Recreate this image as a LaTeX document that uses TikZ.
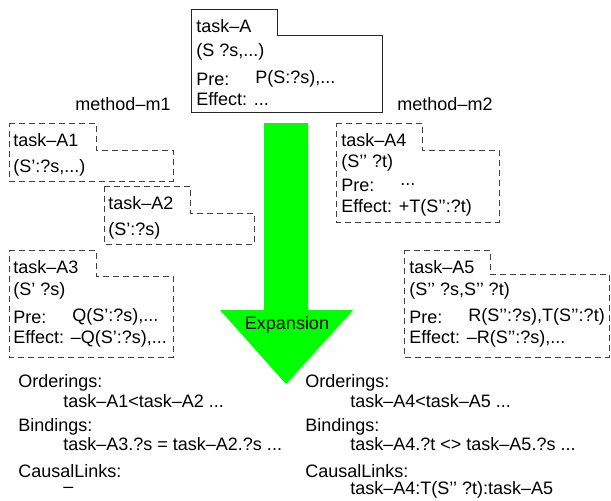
\documentclass[tikz,border=0pt]{standalone}
\usepackage{fontspec}
\setmainfont{Liberation Sans}
\begin{document}
\begin{tikzpicture}[x=0.5pt,y=-0.5pt,
  txt/.style={anchor=west,inner sep=0pt,font=\fontsize{9}{11}\selectfont},
  taskbox/.style={draw=black!85,line width=0.5pt},
  subbox/.style={draw=black!75,line width=0.5pt,dash pattern=on 3pt off 2pt}]
\useasboundingbox (0,0) rectangle (611,500);

% parent task
\draw[taskbox] (191,9) -- (277,9) -- (277,35) -- (382,35) -- (382,112) -- (191,112) -- cycle;
\node[txt] (A-name) at (196,26) {task–A};
\node[txt] (A-args) at (196,52) {(S ?s,...)};
\node[txt] (A-pre) at (196,79) {Pre:};
\node[txt] (A-preval) at (255,79) {P(S:?s),...};
\node[txt] (A-eff) at (196,99) {Effect: ...};

% expansion arrow
\fill[green] (264,123) -- (308,123) -- (308,310) -- (353,310) -- (286,384)
  -- (220,310) -- (264,310) -- cycle;
\node[anchor=center,inner sep=0pt,font=\fontsize{9}{11}\selectfont] (expand) at (287,325) {Expansion};

% method m1
\node[anchor=center,inner sep=0pt,font=\fontsize{9}{11}\selectfont] (m1) at (123,104) {method–m1};
\draw[subbox] (9,123) -- (96,123) -- (96,150) -- (173,150) -- (173,181) -- (9,181) -- cycle;
\node[txt] (A1-name) at (13,140) {task–A1};
\node[txt] (A1-args) at (13,168) {(S’:?s,...)};
\draw[subbox] (104,186) -- (190,186) -- (190,213) -- (254,213) -- (254,244) -- (104,244) -- cycle;
\node[txt] (A2-name) at (108,203) {task–A2};
\node[txt] (A2-args) at (108,231) {(S’:?s)};
\draw[subbox] (9,250) -- (96,250) -- (96,276) -- (173,276) -- (173,357) -- (9,357) -- cycle;
\node[txt] (A3-name) at (13,267) {task–A3};
\node[txt] (A3-args) at (13,291) {(S’ ?s)};
\node[txt] (A3-pre) at (13,317) {Pre:};
\node[txt] (A3-preval) at (72,317) {Q(S’:?s),...};
\node[txt] (A3-eff) at (13,339) {Effect: –Q(S’:?s),...};

% method m2
\node[anchor=center,inner sep=0pt,font=\fontsize{9}{11}\selectfont] (m2) at (445,104) {method–m2};
\draw[subbox] (336,123) -- (422,123) -- (422,150) -- (499,150) -- (499,222) -- (336,222) -- cycle;
\node[txt] (A4-name) at (341,140) {task–A4};
\node[txt] (A4-args) at (341,163) {(S’’ ?t)};
\node[txt] (A4-pre) at (341,185) {Pre:};
\node[txt] (A4-preval) at (400,185) {...};
\node[txt] (A4-eff) at (341,208) {Effect: +T(S’’:?t)};
\draw[subbox] (404,250) -- (490,250) -- (490,274) -- (609,274) -- (609,357) -- (404,357) -- cycle;
\node[txt] (A5-name) at (409,267) {task–A5};
\node[txt] (A5-args) at (409,291) {(S’’ ?s,S’’ ?t)};
\node[txt] (A5-pre) at (409,317) {Pre:};
\node[txt] (A5-preval) at (468,317) {R(S’’:?s),T(S’’:?t)};
\node[txt] (A5-eff) at (409,339) {Effect: –R(S’’:?s),...};

% constraints m1
\node[txt] (m1-ord) at (18,383) {Orderings:};
\node[txt] (m1-ordval) at (63,401) {task–A1<task–A2 ...};
\node[txt] (m1-bind) at (18,427) {Bindings:};
\node[txt] (m1-bindval) at (63,444) {task–A3.?s = task–A2.?s ...};
\node[txt] (m1-cl) at (18,471) {CausalLinks:};
\node[txt] (m1-clval) at (63,490) {–};

% constraints m2
\node[txt] (m2-ord) at (305,383) {Orderings:};
\node[txt] (m2-ordval) at (350,401) {task–A4<task–A5 ...};
\node[txt] (m2-bind) at (305,427) {Bindings:};
\node[txt] (m2-bindval) at (350,444) {task–A4.?t <> task–A5.?s ...};
\node[txt] (m2-cl) at (305,471) {CausalLinks:};
\node[txt] (m2-clval) at (350,490) {task–A4:T(S’’ ?t):task–A5};
\end{tikzpicture}
\end{document}
